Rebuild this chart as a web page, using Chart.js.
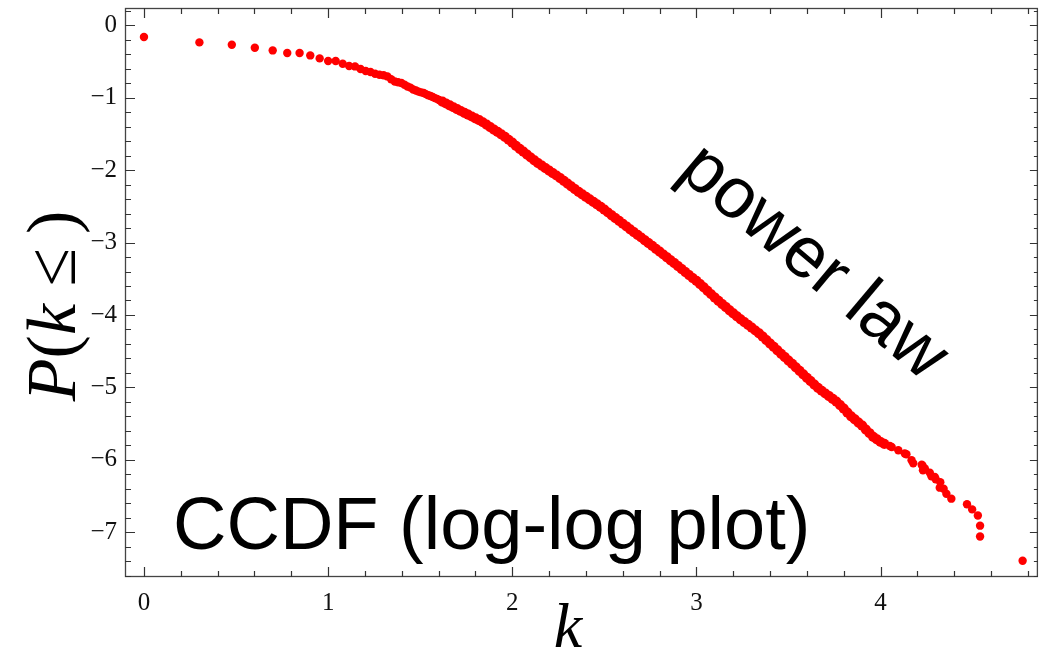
<!DOCTYPE html>
<html>
<head>
<meta charset="utf-8">
<script src="https://cdn.jsdelivr.net/npm/chart.js@4.4.1/dist/chart.umd.min.js"></script>
<style>
  html, body { margin: 0; padding: 0; background: #ffffff; }
  #wrap { position: relative; width: 1043px; height: 655px; }
</style>
</head>
<body>
<div id="wrap"><canvas id="c" width="1043" height="655"></canvas></div>
<script>
// log10(k) positions of the points
const logK = [
  0, 0.301, 0.477, 0.602, 0.699, 0.778, 0.845, 0.903, 0.954, 1.0,
  1.041, 1.079, 1.114, 1.146, 1.176, 1.204, 1.23, 1.255, 1.279, 1.301,
  1.322, 1.342, 1.362, 1.38, 1.398, 1.415, 1.431, 1.447, 1.462, 1.477,
  1.491, 1.505, 1.519, 1.531, 1.544, 1.556, 1.568, 1.58, 1.591, 1.602,
  1.62, 1.64, 1.66, 1.68, 1.70, 1.72, 1.74, 1.76, 1.78, 1.80,
  1.82, 1.84, 1.86, 1.88, 1.90, 1.92, 1.94, 1.96, 1.98, 2.00,
  2.02, 2.04, 2.06, 2.08, 2.10, 2.12, 2.14, 2.16, 2.18, 2.20,
  2.22, 2.24, 2.26, 2.28, 2.30, 2.32, 2.34, 2.36, 2.38, 2.40,
  2.42, 2.44, 2.46, 2.48, 2.50, 2.52, 2.54, 2.56, 2.58, 2.60,
  2.62, 2.64, 2.66, 2.68, 2.70, 2.72, 2.74, 2.76, 2.78, 2.80,
  2.82, 2.84, 2.86, 2.88, 2.90, 2.92, 2.94, 2.96, 2.98, 3.00,
  3.02, 3.04, 3.06, 3.08, 3.10, 3.12, 3.14, 3.16, 3.18, 3.20,
  3.22, 3.24, 3.26, 3.28, 3.30, 3.32, 3.34, 3.36, 3.38, 3.40,
  3.42, 3.44, 3.46, 3.48, 3.50, 3.52, 3.54, 3.56, 3.58, 3.60,
  3.62, 3.64, 3.66, 3.68, 3.70, 3.72, 3.74, 3.76, 3.78, 3.80,
  3.82, 3.84, 3.86, 3.88, 3.90, 3.92, 3.94, 3.96, 3.98, 4.00,
  4.02, 4.05, 4.06, 4.096, 4.131, 4.14, 4.168, 4.177, 4.223, 4.227,
  4.23, 4.24, 4.267, 4.276, 4.294, 4.299, 4.324, 4.321, 4.342, 4.357,
  4.384, 4.469, 4.497, 4.528, 4.54, 4.54, 4.771
];
// log of CCDF at each point
const logP = [
  -0.16, -0.235, -0.267, -0.309, -0.346, -0.382, -0.382, -0.415, -0.456, -0.493,
  -0.493, -0.53, -0.562, -0.567, -0.603, -0.63, -0.645, -0.668, -0.682, -0.69,
  -0.705, -0.745, -0.775, -0.785, -0.797, -0.82, -0.844, -0.86, -0.885, -0.9,
  -0.915, -0.925, -0.935, -0.95, -0.965, -0.975, -0.99, -1.005, -1.015, -1.03,
  -1.053, -1.079, -1.105, -1.131, -1.157, -1.183, -1.208, -1.234, -1.259, -1.285,
  -1.31, -1.338, -1.37, -1.405, -1.44, -1.472, -1.505, -1.54, -1.58, -1.62,
  -1.665, -1.705, -1.745, -1.785, -1.825, -1.865, -1.903, -1.937, -1.972, -2.006,
  -2.04, -2.074, -2.11, -2.148, -2.186, -2.225, -2.263, -2.3, -2.335, -2.37,
  -2.404, -2.438, -2.472, -2.508, -2.546, -2.585, -2.624, -2.663, -2.7, -2.74,
  -2.778, -2.817, -2.855, -2.893, -2.93, -2.97, -3.008, -3.047, -3.086, -3.125,
  -3.165, -3.205, -3.245, -3.285, -3.326, -3.367, -3.408, -3.449, -3.49, -3.53,
  -3.575, -3.62, -3.667, -3.714, -3.762, -3.807, -3.85, -3.893, -3.936, -3.979,
  -4.021, -4.06, -4.098, -4.137, -4.176, -4.215, -4.256, -4.3, -4.348, -4.395,
  -4.442, -4.49, -4.537, -4.584, -4.63, -4.677, -4.725, -4.772, -4.82, -4.868,
  -4.915, -4.962, -5.007, -5.047, -5.085, -5.122, -5.16, -5.198, -5.245, -5.295,
  -5.35, -5.4, -5.443, -5.487, -5.53, -5.583, -5.634, -5.685, -5.72, -5.755,
  -5.78, -5.81, -5.824, -5.87, -5.915, -5.925, -6.008, -6.05, -6.07, -6.08,
  -6.146, -6.12, -6.18, -6.229, -6.238, -6.27, -6.31, -6.386, -6.4, -6.469,
  -6.538, -6.616, -6.686, -6.77, -6.911, -7.06, -7.395
];
const xTickValues = [0, 1, 2, 3, 4];
const yTickValues = [0, -1, -2, -3, -4, -5, -6, -7];
const xMinorStep = 0.2;
const yMinorStep = 0.2;

const points = logK.map((x, i) => ({ x: x, y: logP[i] }));
const fmt = v => (v < 0 ? '\u2212' + Math.abs(v) : String(v));

const framePlugin = {
  id: 'frame',
  beforeDatasetsDraw(chart) {
    const { ctx, chartArea: a, scales: { x, y } } = chart;
    ctx.save();
    ctx.lineWidth = 1.3;
    ctx.strokeStyle = '#444';
    ctx.strokeRect(a.left + 0.5, a.top + 0.5, a.right - a.left - 1, a.bottom - a.top - 1);
    ctx.strokeStyle = '#333';
    ctx.lineWidth = 1.2;
    const x0 = Math.ceil(x.min / xMinorStep);
    const x1 = Math.floor(x.max / xMinorStep);
    for (let i = x0; i <= x1; i++) {
      const v = i * xMinorStep;
      const major = Math.abs(v - Math.round(v)) < 1e-6;
      const px = Math.round(x.getPixelForValue(v)) + 0.5;
      const lb = major ? 10 : 6, lt = major ? 10 : 6;
      ctx.beginPath();
      ctx.moveTo(px, a.bottom); ctx.lineTo(px, a.bottom - lb);
      ctx.moveTo(px, a.top); ctx.lineTo(px, a.top + lt);
      ctx.stroke();
    }
    const y0 = Math.ceil(y.min / yMinorStep);
    const y1 = Math.floor(y.max / yMinorStep);
    for (let i = y0; i <= y1; i++) {
      const v = i * yMinorStep;
      const major = Math.abs(v - Math.round(v)) < 1e-6;
      const py = Math.round(y.getPixelForValue(v)) + 0.5;
      const ll = major ? 10 : 6, lr = major ? 8 : 4;
      ctx.beginPath();
      ctx.moveTo(a.left, py); ctx.lineTo(a.left + ll, py);
      ctx.moveTo(a.right, py); ctx.lineTo(a.right - lr, py);
      ctx.stroke();
    }
    ctx.restore();
  },
  afterDatasetsDraw(chart) {
    const { ctx } = chart;
    ctx.save();
    ctx.fillStyle = '#000';
    ctx.font = '74px "Liberation Sans", Arial, sans-serif';
    ctx.textAlign = 'left';
    ctx.textBaseline = 'alphabetic';
    ctx.fillText('CCDF (log-log plot)', 173, 549);

    ctx.save();
    ctx.translate(813, 263);
    ctx.rotate(40 * Math.PI / 180);
    ctx.font = '72px "Liberation Sans", Arial, sans-serif';
    ctx.textAlign = 'center';
    ctx.textBaseline = 'middle';
    ctx.fillText('power law', 0, 0);
    ctx.restore();

    ctx.font = 'italic 64px "Liberation Serif", "Times New Roman", serif';
    ctx.textAlign = 'center';
    ctx.textBaseline = 'alphabetic';
    ctx.fillText('k', 568, 647);

    const segs = [
      ['P', 'italic'], ['(', 'normal'], ['k', 'italic'], [' \u2264\u2009', 'normal'], [')', 'normal']
    ];
    const size = 70;
    let total = 0;
    const widths = segs.map(s => {
      ctx.font = s[1] + ' ' + size + 'px "Liberation Serif", "Times New Roman", serif';
      const w = ctx.measureText(s[0]).width; total += w; return w;
    });
    ctx.translate(75, 306);
    ctx.rotate(-Math.PI / 2);
    ctx.textAlign = 'left';
    let cx = -total / 2;
    segs.forEach((s, i) => {
      ctx.font = s[1] + ' ' + size + 'px "Liberation Serif", "Times New Roman", serif';
      ctx.fillText(s[0], cx, 0);
      cx += widths[i];
    });
    ctx.restore();
  }
};

new Chart(document.getElementById('c'), {
  type: 'scatter',
  data: {
    datasets: [{
      data: points,
      backgroundColor: '#ff0000',
      borderWidth: 0,
      pointRadius: c => (c.raw && c.raw.x > 1.61 && c.raw.x < 4.03 ? 5.1 : 4.2),
      pointHoverRadius: 4.2
    }]
  },
  options: {
    responsive: false,
    animation: false,
    devicePixelRatio: 1,
    events: [],
    layout: { padding: { top: 8, right: 1, left: 0, bottom: 0 } },
    plugins: { legend: { display: false }, tooltip: { enabled: false } },
    scales: {
      x: {
        type: 'linear',
        min: -0.103, max: 4.854,
        grid: { display: false, drawTicks: false },
        border: { display: false },
        afterBuildTicks: s => { s.ticks = xTickValues.map(v => ({ value: v })); },
        afterFit: s => { s.height = 78; s.paddingLeft = 0; s.paddingRight = 0; },
        ticks: {
          padding: 11,
          color: '#111',
          maxRotation: 0,
          font: { family: '"Liberation Serif", "Times New Roman", serif', size: 25 },
          callback: v => fmt(v)
        }
      },
      y: {
        type: 'linear',
        min: -7.62, max: 0.24,
        grid: { display: false, drawTicks: false },
        border: { display: false },
        afterBuildTicks: s => { s.ticks = yTickValues.map(v => ({ value: v })); },
        afterFit: s => { s.width = 125; s.paddingTop = 0; s.paddingBottom = 0; },
        ticks: {
          padding: 8,
          color: '#111',
          font: { family: '"Liberation Serif", "Times New Roman", serif', size: 25 },
          callback: v => fmt(v)
        }
      }
    }
  },
  plugins: [framePlugin]
});
</script>
</body>
</html>
